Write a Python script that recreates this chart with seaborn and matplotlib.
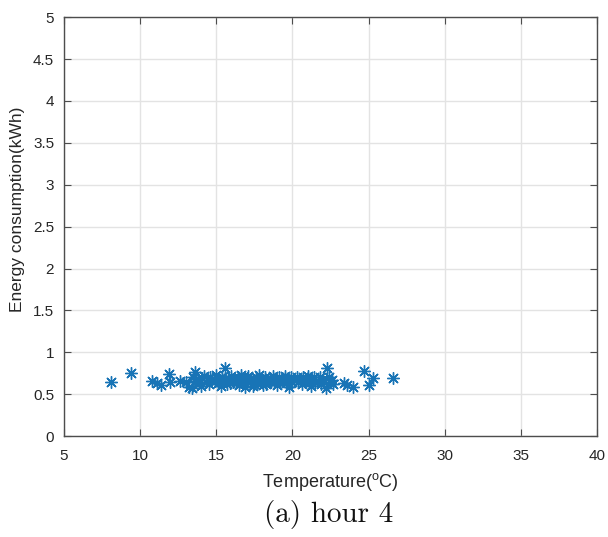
import matplotlib
matplotlib.use("Agg")
import matplotlib.pyplot as plt
import seaborn as sns
import pandas as pd

# Hour-4 observations: outdoor temperature (°C) vs. energy use (kWh)
temperature = [
    8.1, 9.4, 10.8, 11.1, 11.4, 11.9, 12.0, 12.6, 13.0, 13.2, 13.4, 13.5, 13.6,
    13.7, 13.9, 14.1, 14.2, 14.3, 14.5, 14.6, 14.7, 14.9, 15.0, 15.1, 15.2,
    15.3, 15.4, 15.5, 15.6, 15.7, 15.8, 16.0, 16.1, 16.2, 16.3, 16.4, 16.5,
    16.6, 16.7, 16.8, 16.9, 17.0, 17.1, 17.2, 17.3, 17.5, 17.6, 17.7, 17.8,
    17.9, 18.0, 18.1, 18.2, 18.4, 18.5, 18.6, 18.7, 18.9, 19.0, 19.1, 19.2,
    19.4, 19.5, 19.6, 19.7, 19.8, 19.9, 20.0, 20.1, 20.3, 20.4, 20.5, 20.7,
    20.8, 20.9, 21.0, 21.1, 21.3, 21.4, 21.5, 21.7, 21.8, 21.9, 22.0, 22.1,
    22.2, 22.3, 22.4, 22.5, 22.6, 22.7, 23.4, 23.6, 24.0, 24.7, 25.0, 25.3,
    26.6, 14.0, 15.9, 17.4, 18.3, 19.3, 20.6, 21.2, 13.8, 16.6, 18.8,
]
energy = [
    0.64, 0.75, 0.66, 0.63, 0.61, 0.74, 0.65, 0.66, 0.64, 0.59, 0.57, 0.71, 0.77,
    0.66, 0.63, 0.69, 0.72, 0.65, 0.62, 0.71, 0.68, 0.66, 0.73, 0.63, 0.68,
    0.60, 0.71, 0.66, 0.81, 0.62, 0.69, 0.72, 0.64, 0.67, 0.65, 0.70, 0.61,
    0.73, 0.66, 0.63, 0.59, 0.69, 0.72, 0.64, 0.67, 0.62, 0.70, 0.66, 0.73,
    0.64, 0.68, 0.61, 0.71, 0.66, 0.69, 0.64, 0.72, 0.67, 0.61, 0.70, 0.65,
    0.68, 0.72, 0.63, 0.67, 0.59, 0.70, 0.65, 0.68, 0.71, 0.64, 0.67, 0.70,
    0.65, 0.68, 0.72, 0.63, 0.67, 0.70, 0.64, 0.66, 0.71, 0.62, 0.68, 0.64,
    0.57, 0.81, 0.71, 0.65, 0.67, 0.62, 0.63, 0.61, 0.59, 0.78, 0.61, 0.69,
    0.69, 0.60, 0.63, 0.60, 0.62, 0.66, 0.62, 0.60, 0.68, 0.69, 0.64,
]

x_ticks = [5, 10, 15, 20, 25, 30, 35, 40]
y_ticks = [0, 0.5, 1, 1.5, 2, 2.5, 3, 3.5, 4, 4.5, 5]
y_tick_labels = ["0", "0.5", "1", "1.5", "2", "2.5", "3", "3.5", "4", "4.5", "5"]

df = pd.DataFrame({"Temperature": temperature, "Energy": energy})

sns.set_style("whitegrid")
plt.rcParams["font.family"] = ["Liberation Sans", "DejaVu Sans"]
plt.rcParams["mathtext.fontset"] = "custom"
plt.rcParams["mathtext.rm"] = "Liberation Sans"

fig = plt.figure(figsize=(6.08, 5.37), dpi=100)
ax = fig.add_axes([0.105, 0.188, 0.877, 0.780])

sns.scatterplot(
    data=df, x="Temperature", y="Energy", ax=ax,
    marker=(8, 2, 0), s=72, color="#1874b6", linewidth=1.0, legend=False,
)

ax.set_xlim(5, 40)
ax.set_ylim(0, 5)
ax.set_xticks(x_ticks)
ax.set_xticklabels([str(t) for t in x_ticks])
ax.set_yticks(y_ticks)
ax.set_yticklabels(y_tick_labels)

ax.grid(True, color="#e3e3e3", linewidth=1.0)
for side in ["left", "bottom", "top", "right"]:
    ax.spines[side].set_visible(True)
    ax.spines[side].set_color("#4d4d4d")
    ax.spines[side].set_linewidth(1.0)

ax.tick_params(axis="both", direction="in", length=5, width=0.8,
               color="#4d4d4d", labelsize=11, labelcolor="#262626",
               top=True, right=True, left=True, bottom=True)
ax.tick_params(axis="x", pad=9)
ax.tick_params(axis="y", pad=7)

ax.set_xlabel("Temperature($^{\\rm o}$C)", fontsize=13, color="#262626",
              va="center", ha="center")
ax.set_ylabel("Energy consumption(kWh)", fontsize=12.5, color="#262626",
              va="center", ha="center")
ax.xaxis.set_label_coords(0.5, -0.110)
ax.yaxis.set_label_coords(-0.086, 0.542)

fig.text(0.541, 0.041, "(a) hour 4", family="cmr10", fontsize=21,
         ha="center", va="center", color="#111111")

fig.savefig("out.png", dpi=100)
